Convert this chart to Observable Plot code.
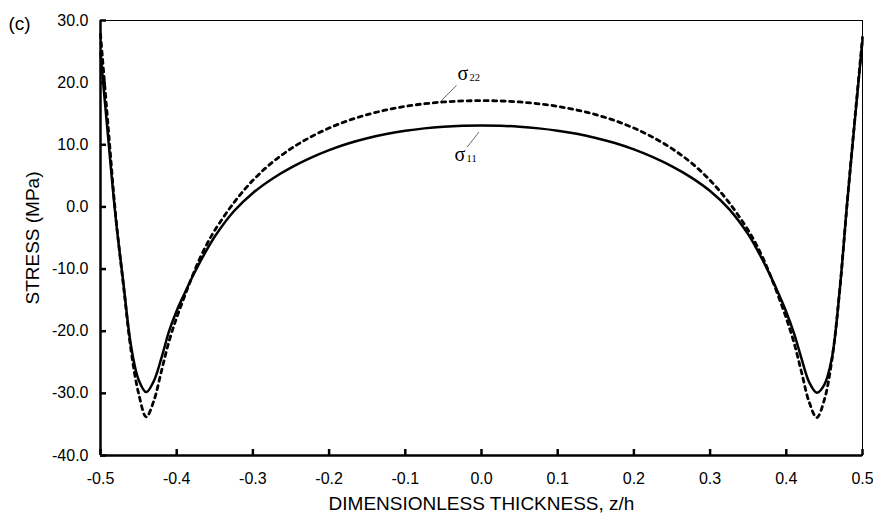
<!DOCTYPE html>
<html>
<head>
<meta charset="utf-8">
<script src="https://cdn.jsdelivr.net/npm/d3@7"></script>
<script src="https://cdn.jsdelivr.net/npm/@observablehq/plot@0.6"></script>
<style>
  html, body { margin: 0; padding: 0; background: #fff; }
  #chart svg { display: block; }
</style>
</head>
<body>
<div id="chart"></div>
<script>
// Dimensionless thickness positions z/h
const zGrid = [
  -0.50, -0.49, -0.48, -0.47, -0.46, -0.45, -0.44, -0.43, -0.42, -0.41, -0.40, -0.39, -0.38, -0.37, -0.36, -0.35,
  -0.325, -0.30, -0.275, -0.25, -0.225, -0.20, -0.175, -0.15, -0.125, -0.10, -0.075, -0.05, -0.025, 0,
  0.025, 0.05, 0.075, 0.10, 0.125, 0.15, 0.175, 0.20, 0.225, 0.25, 0.275, 0.30, 0.325,
  0.35, 0.36, 0.37, 0.38, 0.39, 0.40, 0.41, 0.42, 0.43, 0.44, 0.45, 0.46, 0.47, 0.48, 0.49, 0.50];

// sigma_11 (solid), MPa
const sigma11 = [
  24.8, 11.2, -1.8, -12.2, -22.3, -27.8, -29.8, -28.0, -24.3, -20.0, -16.7, -14.0, -11.4, -9.0, -6.8, -4.75,
  -0.69, 2.25, 4.5, 6.32, 7.85, 9.14, 10.2, 11.05, 11.72, 12.25, 12.64, 12.9, 13.05, 13.1,
  13.05, 12.9, 12.64, 12.27, 11.76, 11.1, 10.28, 9.25, 8.0, 6.52, 4.75, 2.55, -0.35,
  -4.4, -6.5, -8.8, -11.3, -14.0, -16.9, -20.3, -24.4, -28.2, -29.9, -28.6, -24.2, -13.5, 0.8, 14.0, 26.8];

// sigma_22 (dotted), MPa
const sigma22 = [
  27.8, 13.0, -1.5, -12.5, -23.0, -30.0, -33.8, -31.2, -26.4, -21.6, -17.8, -14.5, -11.3, -8.4, -5.9, -3.76,
  0.68, 4.28, 7.13, 9.38, 11.2, 12.69, 13.89, 14.85, 15.6, 16.18, 16.6, 16.89, 17.05, 17.1,
  17.05, 16.89, 16.6, 16.18, 15.6, 14.85, 13.89, 12.69, 11.2, 9.38, 7.13, 4.28, 0.68,
  -3.76, -5.9, -8.4, -11.3, -14.5, -17.9, -21.8, -26.6, -31.4, -33.9, -31.0, -24.5, -13.5, 0.8, 14.2, 27.3];

const xDomain = [-0.5, 0.5];
const yDomain = [-40, 30];
const xTicks = [-0.5, -0.4, -0.3, -0.2, -0.1, 0, 0.1, 0.2, 0.3, 0.4, 0.5];
const yTicks = [-40, -30, -20, -10, 0, 10, 20, 30];

const panelLabel = "(c)";
const xTitle = "DIMENSIONLESS THICKNESS, z/h";
const yTitle = "STRESS (MPa)";

// curve annotations (data units)
const annotNames = ["σ", "σ"];
const annotSubs = ["22", "11"];
const annotX = [-0.0315, -0.0354];
const annotY = [20.35, 7.47];
const leaderX1 = [-0.0328, -0.0035];
const leaderY1 = [19.55, 12.03];
const leaderX2 = [-0.0547, -0.0189];
const leaderY2 = [16.86, 9.61];

const rows = zGrid.map((z, i) => ({z, s11: sigma11[i], s22: sigma22[i]}));
const annots = annotNames.map((t, i) => ({t, sub: annotSubs[i], x: annotX[i], y: annotY[i]}));
const leaders = leaderX1.map((x1, i) => ({x1, y1: leaderY1[i], x2: leaderX2[i], y2: leaderY2[i]}));
const fmt = d => d.toFixed(1);

const W = 873, H = 518, ML = 100, MR = 11, MT = 20, MB = 63;
const tickLen = 6;

const chart = Plot.plot({
  width: W,
  height: H,
  marginLeft: ML,
  marginRight: MR,
  marginTop: MT,
  marginBottom: MB,
  style: {fontFamily: "'Liberation Sans', Arial, sans-serif", fontSize: "16px", color: "#000", background: "#fff"},
  x: {domain: xDomain},
  y: {domain: yDomain},
  marks: [
    Plot.frame({stroke: "#000", strokeWidth: 1}),
    Plot.axisX(xTicks, {tickSize: 0, tickPadding: 17, tickFormat: fmt, label: null, fontSize: 16}),
    Plot.axisY(yTicks, {tickSize: 0, tickPadding: 12, tickFormat: fmt, label: null, fontSize: 16}),
    // inward ticks
    Plot.tickX(xTicks, {x: d => d, insetTop: (H - MT - MB) - tickLen, stroke: "#000", strokeWidth: 2.5}),
    Plot.tickY(yTicks, {y: d => d, insetRight: (W - ML - MR) - tickLen, stroke: "#000", strokeWidth: 2.5}),
    Plot.ruleX([xDomain[0]], {stroke: "#000", strokeWidth: 2.5}),
    Plot.ruleY([yDomain[0]], {stroke: "#000", strokeWidth: 2.5}),
    Plot.line(rows, {x: "z", y: "s22", stroke: "#000", strokeWidth: 2.8, strokeDasharray: "4,4.5", curve: "catmull-rom"}),
    Plot.line(rows, {x: "z", y: "s11", stroke: "#000", strokeWidth: 2.5, curve: "catmull-rom"}),
    Plot.link(leaders, {x1: "x1", y1: "y1", x2: "x2", y2: "y2", stroke: "#444", strokeWidth: 0.8}),
    Plot.text(annots, {x: "x", y: "y", text: "t", textAnchor: "start", lineAnchor: "bottom", fontFamily: "'Liberation Serif', 'Times New Roman', serif", fontSize: 20, fill: "#000"}),
    Plot.text(annots, {x: "x", y: "y", text: "sub", dx: 12, dy: 1, textAnchor: "start", lineAnchor: "bottom", fontFamily: "'Liberation Serif', 'Times New Roman', serif", fontSize: 10.5, fill: "#000"}),
    Plot.text([panelLabel], {text: d => d, frameAnchor: "top-left", dx: -92, dy: 3, textAnchor: "start", lineAnchor: "middle", fontSize: 19, fill: "#000"}),
    Plot.text([xTitle], {text: d => d, frameAnchor: "bottom", dy: 54, textAnchor: "middle", fontSize: 19, fill: "#000"}),
    Plot.text([yTitle], {text: d => d, frameAnchor: "left", dx: -68, rotate: -90, textAnchor: "middle", lineAnchor: "middle", fontSize: 19, fill: "#000"})
  ]
});
document.getElementById("chart").appendChild(chart);
</script>
</body>
</html>
